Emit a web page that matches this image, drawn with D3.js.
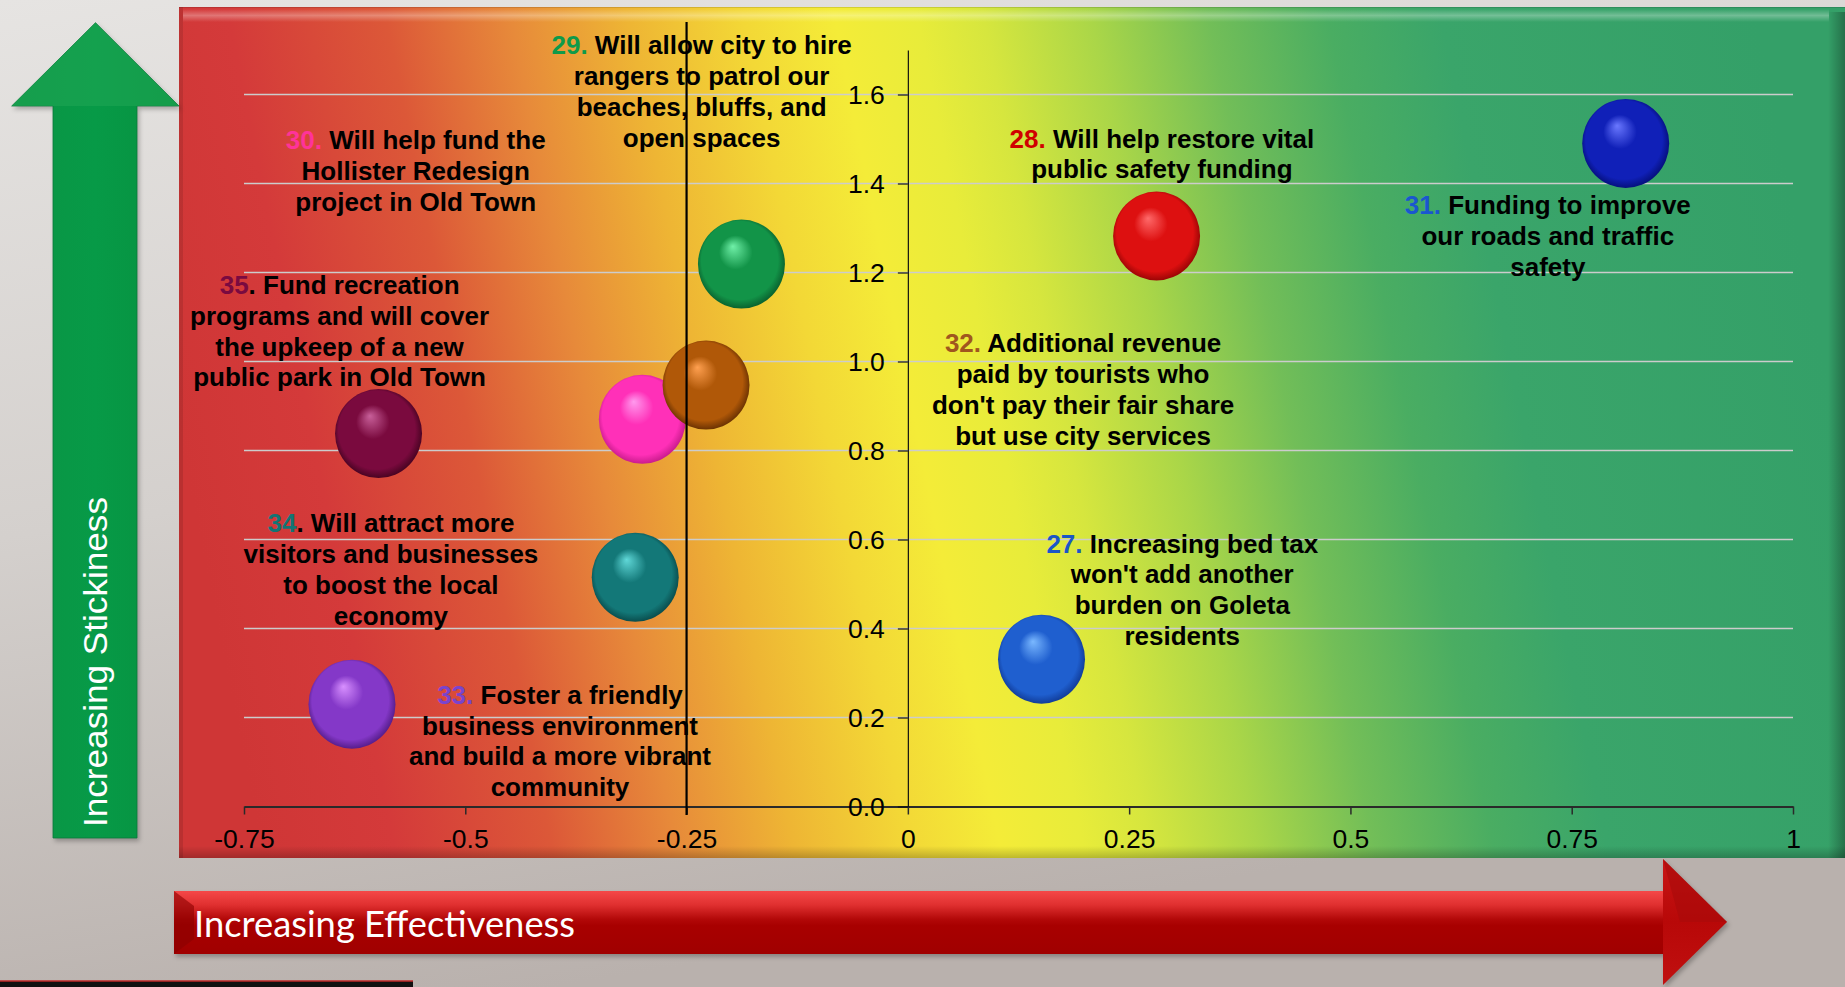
<!DOCTYPE html>
<html>
<head>
<meta charset="utf-8">
<script src="https://cdn.jsdelivr.net/npm/d3@7"></script>
<style>
  html, body { margin: 0; padding: 0; background: #d2cecb; overflow: hidden; }
  svg { display: block; }
</style>
</head>
<body>
<svg id="chart" width="1845" height="987"></svg>
<script>
// ---------------- DATA ----------------
const ids = ["27", "28", "29", "30", "31", "32", "33", "34", "35"];
const effectiveness = [0.151, 0.281, -0.188, -0.300, 0.811, -0.228, -0.628, -0.308, -0.598];
const stickiness   = [0.331, 1.282, 1.219, 0.870, 1.490, 0.947, 0.230, 0.515, 0.838];
const labelNums = ["27.", "28.", "29.", "30.", "31.", "32.", "33.", "34", "35"];
const labelLines = [
  [" Increasing bed tax", "won't add another", "burden on Goleta", "residents"],
  [" Will help restore vital", "public safety funding"],
  [" Will allow city to hire", "rangers to patrol our", "beaches, bluffs, and", "open spaces"],
  [" Will help fund the", "Hollister Redesign", "project in Old Town"],
  [" Funding to improve", "our roads and traffic", "safety"],
  [" Additional revenue", "paid by tourists who", "don't pay their fair share", "but use city services"],
  [" Foster a friendly", "business environment", "and build a more vibrant", "community"],
  [". Will attract more", "visitors and businesses", "to boost the local", "economy"],
  [". Fund recreation", "programs and will cover", "the upkeep of a new", "public park in Old Town"]
];
// label anchors (centre of first text line) in data units
const labelEff   = [0.310, 0.287, -0.233, -0.556, 0.723, 0.198, -0.393, -0.584, -0.642];
const labelStick = [0.591, 1.501, 1.711, 1.497, 1.351, 1.041, 0.251, 0.636, 1.172];
const xTicks = [-0.75, -0.5, -0.25, 0, 0.25, 0.5, 0.75, 1];
const yTicks = [0, 0.2, 0.4, 0.6, 0.8, 1.0, 1.2, 1.4, 1.6];
const referenceEff = -0.25;
const xTitle = "Increasing Effectiveness";
const yTitle = "Increasing Stickiness";

// ---------------- STYLES ----------------
const numColors = ["#1a56c8", "#d00000", "#0f9a4a", "#ff3399", "#1a56d0", "#a0561e", "#7a44cc", "#147474", "#7a0a40"];
const ballColors = [
  ["#7ab8ff", "#1f5fcf", "#0a2c80"],
  ["#ff6a6a", "#dd1010", "#7a0000"],
  ["#70f0a8", "#129448", "#064a22"],
  ["#ff9aee", "#ff30b8", "#b01278"],
  ["#6a78ff", "#1020b8", "#000860"],
  ["#ffa050", "#b05808", "#4a2000"],
  ["#d890ff", "#8438c8", "#40106e"],
  ["#60d8d8", "#137878", "#053838"],
  ["#c8609a", "#7a0a3e", "#300014"]
];

const W = 1845, H = 987;
const svg = d3.select("#chart");
const defs = svg.append("defs");

const x = d3.scaleLinear().domain([-0.75, 1]).range([244, 1793]);
const y = d3.scaleLinear().domain([0, 1.7]).range([806.5, 50]);

// ---------------- BACKGROUND ----------------
const bgGrad = defs.append("linearGradient").attr("id", "bg").attr("x1", 0).attr("y1", 0).attr("x2", 0.3).attr("y2", 1);
bgGrad.append("stop").attr("offset", 0).attr("stop-color", "#e6e4e2");
bgGrad.append("stop").attr("offset", 0.5).attr("stop-color", "#d4d0cd");
bgGrad.append("stop").attr("offset", 1).attr("stop-color", "#b9b1ad");
svg.append("rect").attr("width", W).attr("height", H).attr("fill", "url(#bg)");

// bottom-left dark strip
svg.append("rect").attr("x", 0).attr("y", 981).attr("width", 413).attr("height", 6).attr("fill", "#111");
svg.append("line").attr("x1", 0).attr("x2", 413).attr("y1", 981).attr("y2", 981).attr("stroke", "#c02828").attr("stroke-width", 1.5);

// ---------------- PANEL ----------------
const panel = {x: 179, y: 7, w: W - 179, h: 858 - 7};
const pg = defs.append("linearGradient").attr("id", "panelGrad")
  .attr("gradientUnits", "userSpaceOnUse")
  .attr("x1", 92).attr("y1", 0).attr("x2", 1753).attr("y2", 0)
  .attr("gradientTransform", "skewX(11.3)");
[
  [0, "#cf3636"], [0.08, "#d43a3a"], [0.175, "#dc5838"], [0.25, "#e78a3a"],
  [0.32, "#eeb534"], [0.39, "#f3d836"], [0.445, "#f4ec38"], [0.495, "#e8ec3a"],
  [0.535, "#d6e63e"], [0.60, "#aad648"], [0.67, "#72be58"], [0.742, "#4aad62"],
  [0.81, "#3aa56a"], [1, "#34a068"]
].forEach(s => pg.append("stop").attr("offset", s[0]).attr("stop-color", s[1]));
svg.append("rect").attr("x", panel.x).attr("y", panel.y).attr("width", panel.w).attr("height", panel.h)
  .attr("fill", "url(#panelGrad)");

// bevels
const topHL = defs.append("linearGradient").attr("id", "topHL").attr("x1", 0).attr("y1", 0).attr("x2", 0).attr("y2", 1);
topHL.append("stop").attr("offset", 0).attr("stop-color", "#fff").attr("stop-opacity", 0);
topHL.append("stop").attr("offset", 0.5).attr("stop-color", "#fff").attr("stop-opacity", 0.3);
topHL.append("stop").attr("offset", 1).attr("stop-color", "#fff").attr("stop-opacity", 0);
svg.append("rect").attr("x", panel.x + 4).attr("y", 9).attr("width", panel.w - 20).attr("height", 13).attr("fill", "url(#topHL)");
svg.append("line").attr("x1", panel.x).attr("x2", W).attr("y1", 7.5).attr("y2", 7.5).attr("stroke", "#000").attr("stroke-opacity", 0.12);
const rightBev = defs.append("linearGradient").attr("id", "rightBev").attr("x1", 0).attr("y1", 0).attr("x2", 1).attr("y2", 0);
rightBev.append("stop").attr("offset", 0).attr("stop-color", "#000").attr("stop-opacity", 0.0);
rightBev.append("stop").attr("offset", 0.4).attr("stop-color", "#000").attr("stop-opacity", 0.12);
rightBev.append("stop").attr("offset", 1).attr("stop-color", "#000").attr("stop-opacity", 0.3);
svg.append("rect").attr("x", 1828).attr("y", 12).attr("width", 17).attr("height", 846).attr("fill", "url(#rightBev)");
const botBev = defs.append("linearGradient").attr("id", "botBev").attr("x1", 0).attr("y1", 0).attr("x2", 0).attr("y2", 1);
botBev.append("stop").attr("offset", 0).attr("stop-color", "#000").attr("stop-opacity", 0);
botBev.append("stop").attr("offset", 1).attr("stop-color", "#000").attr("stop-opacity", 0.22);
svg.append("rect").attr("x", panel.x).attr("y", 846).attr("width", panel.w).attr("height", 12).attr("fill", "url(#botBev)");
svg.append("rect").attr("x", panel.x).attr("y", panel.y).attr("width", 4).attr("height", panel.h).attr("fill", "#000").attr("opacity", 0.1);

// ---------------- GRIDLINES ----------------
svg.append("g").selectAll("line").data(yTicks.filter(d => d > 0)).join("line")
  .attr("x1", x(-0.75)).attr("x2", x(1))
  .attr("y1", d => y(d)).attr("y2", d => y(d))
  .attr("stroke", "#cccccc").attr("stroke-width", 1.3);

// ---------------- AXES ----------------
const fontAxis = "'Liberation Sans', Arial, sans-serif";
const xAxis = svg.append("g").attr("transform", `translate(0,${y(0)})`)
  .call(d3.axisBottom(x).tickValues(xTicks).tickFormat(d => String(d)).tickSize(8).tickSizeOuter(0));
xAxis.select(".domain").attr("stroke", "#2a2a2a").attr("stroke-width", 2);
xAxis.selectAll(".tick line").attr("stroke", "#2a2a2a").attr("stroke-width", 1.5);
xAxis.selectAll(".tick text").attr("y", 41.5).attr("dy", 0)
  .attr("font-family", fontAxis).attr("font-size", 26.5).attr("fill", "#000");

const yAxis = svg.append("g").attr("transform", `translate(${x(0)},0)`)
  .call(d3.axisLeft(y).tickValues(yTicks).tickFormat(d3.format(".1f")).tickSize(10).tickSizeOuter(0));
yAxis.select(".domain").attr("stroke", "#111").attr("stroke-width", 1.2);
yAxis.selectAll(".tick line").attr("stroke", "#111").attr("stroke-width", 1.2);
yAxis.selectAll(".tick text").attr("x", -23).attr("dy", 0).attr("y", 9)
  .attr("font-family", fontAxis).attr("font-size", 26.5).attr("fill", "#000");

// ---------------- BUBBLES ----------------
ids.forEach((id, i) => {
  const g = defs.append("radialGradient").attr("id", "ball" + id)
    .attr("cx", 0.5).attr("cy", 0.5).attr("r", 0.55).attr("fx", 0.4).attr("fy", 0.3);
  g.append("stop").attr("offset", 0).attr("stop-color", ballColors[i][0]);
  g.append("stop").attr("offset", 0.35).attr("stop-color", ballColors[i][1]);
  g.append("stop").attr("offset", 0.8).attr("stop-color", ballColors[i][1]);
  g.append("stop").attr("offset", 1).attr("stop-color", ballColors[i][2]);
});
const ballR = 44;
svg.append("g").selectAll("ellipse").data(ids).join("ellipse")
  .attr("cx", (d, i) => x(effectiveness[i]))
  .attr("cy", (d, i) => y(stickiness[i]))
  .attr("rx", ballR - 0.5).attr("ry", ballR + 0.5)
  .attr("fill", d => `url(#ball${d})`);

// ---------------- LABELS ----------------
const fontLabel = "'Liberation Sans', Arial, sans-serif";
const lineH = 30.8;
const labels = svg.append("g").attr("font-family", fontLabel).attr("font-weight", "bold")
  .attr("font-size", 26).attr("text-anchor", "middle");
ids.forEach((id, i) => {
  const cx = x(labelEff[i]);
  const cy = y(labelStick[i]) + 9;
  const t = labels.append("text").attr("x", cx).attr("y", cy);
  t.append("tspan").attr("fill", numColors[i]).text(labelNums[i]);
  t.append("tspan").attr("fill", "#000").text(labelLines[i][0]);
  labelLines[i].slice(1).forEach((ln, k) => {
    labels.append("text").attr("x", cx).attr("y", cy + (k + 1) * lineH).attr("fill", "#000").text(ln);
  });
});

// ---------------- REFERENCE LINE ----------------
svg.append("line").attr("x1", x(referenceEff)).attr("x2", x(referenceEff))
  .attr("y1", 22).attr("y2", 815).attr("stroke", "#000").attr("stroke-width", 2.2);

// ---------------- GREEN UP ARROW ----------------
const gArrGrad = defs.append("linearGradient").attr("id", "gArr").attr("x1", 0).attr("y1", 0).attr("x2", 1).attr("y2", 0);
gArrGrad.append("stop").attr("offset", 0).attr("stop-color", "#0a9444");
gArrGrad.append("stop").attr("offset", 0.5).attr("stop-color", "#079a47");
gArrGrad.append("stop").attr("offset", 1).attr("stop-color", "#06913f");
svg.append("path")
  .attr("d", "M95.5,22.7 L179,106 L137,106 L137,838 L53,838 L53,106 L11.7,106 Z")
  .attr("fill", "url(#gArr)")
  .attr("stroke", "#0a7a3a").attr("stroke-width", 0.8)
  .style("filter", "drop-shadow(2px 3px 2px rgba(0,0,0,0.25))");
svg.append("path")
  .attr("d", "M95.5,22.7 L179,106 L11.7,106 Z")
  .attr("fill", "#22a756").attr("opacity", 0.5);
svg.append("text")
  .attr("transform", "translate(107,827) rotate(-90)")
  .attr("font-family", "'Liberation Sans', Arial, sans-serif")
  .attr("font-size", 34).attr("fill", "#fff")
  .attr("textLength", 330).attr("lengthAdjust", "spacingAndGlyphs")
  .text(yTitle);

// ---------------- RED RIGHT ARROW ----------------
const rArr = defs.append("linearGradient").attr("id", "rArr").attr("x1", 0).attr("y1", 0).attr("x2", 0).attr("y2", 1);
rArr.append("stop").attr("offset", 0).attr("stop-color", "#f54848");
rArr.append("stop").attr("offset", 0.22).attr("stop-color", "#e03030");
rArr.append("stop").attr("offset", 0.45).attr("stop-color", "#b20808");
rArr.append("stop").attr("offset", 0.55).attr("stop-color", "#a80000");
rArr.append("stop").attr("offset", 1).attr("stop-color", "#a00000");
const rHead = defs.append("linearGradient").attr("id", "rHead").attr("x1", 0).attr("y1", 0).attr("x2", 0).attr("y2", 1);
rHead.append("stop").attr("offset", 0).attr("stop-color", "#c81616");
rHead.append("stop").attr("offset", 0.5).attr("stop-color", "#b80808");
rHead.append("stop").attr("offset", 1).attr("stop-color", "#c01010");
const arrG = svg.append("g").style("filter", "drop-shadow(2px 3px 2px rgba(0,0,0,0.25))");
arrG.append("rect").attr("x", 174).attr("y", 891).attr("width", 1663 - 174).attr("height", 63).attr("fill", "url(#rArr)");
arrG.append("path").attr("d", "M1663,859 L1727,922 L1663,985 Z").attr("fill", "url(#rHead)");
arrG.append("path").attr("d", "M1663,859 L1727,922 L1680,922 Z").attr("fill", "#a80a0a").attr("opacity", 0.6);
arrG.append("path").attr("d", "M174,891 L194,906 L194,939 L174,954 Z").attr("fill", "#8a0000").attr("opacity", 0.6);
svg.append("text")
  .attr("x", 194).attr("y", 937)
  .attr("font-family", "Lato, 'Liberation Sans', Arial, sans-serif")
  .attr("font-size", 36).attr("fill", "#fff")
  .attr("textLength", 381).attr("lengthAdjust", "spacingAndGlyphs")
  .text(xTitle);
</script>
</body>
</html>
